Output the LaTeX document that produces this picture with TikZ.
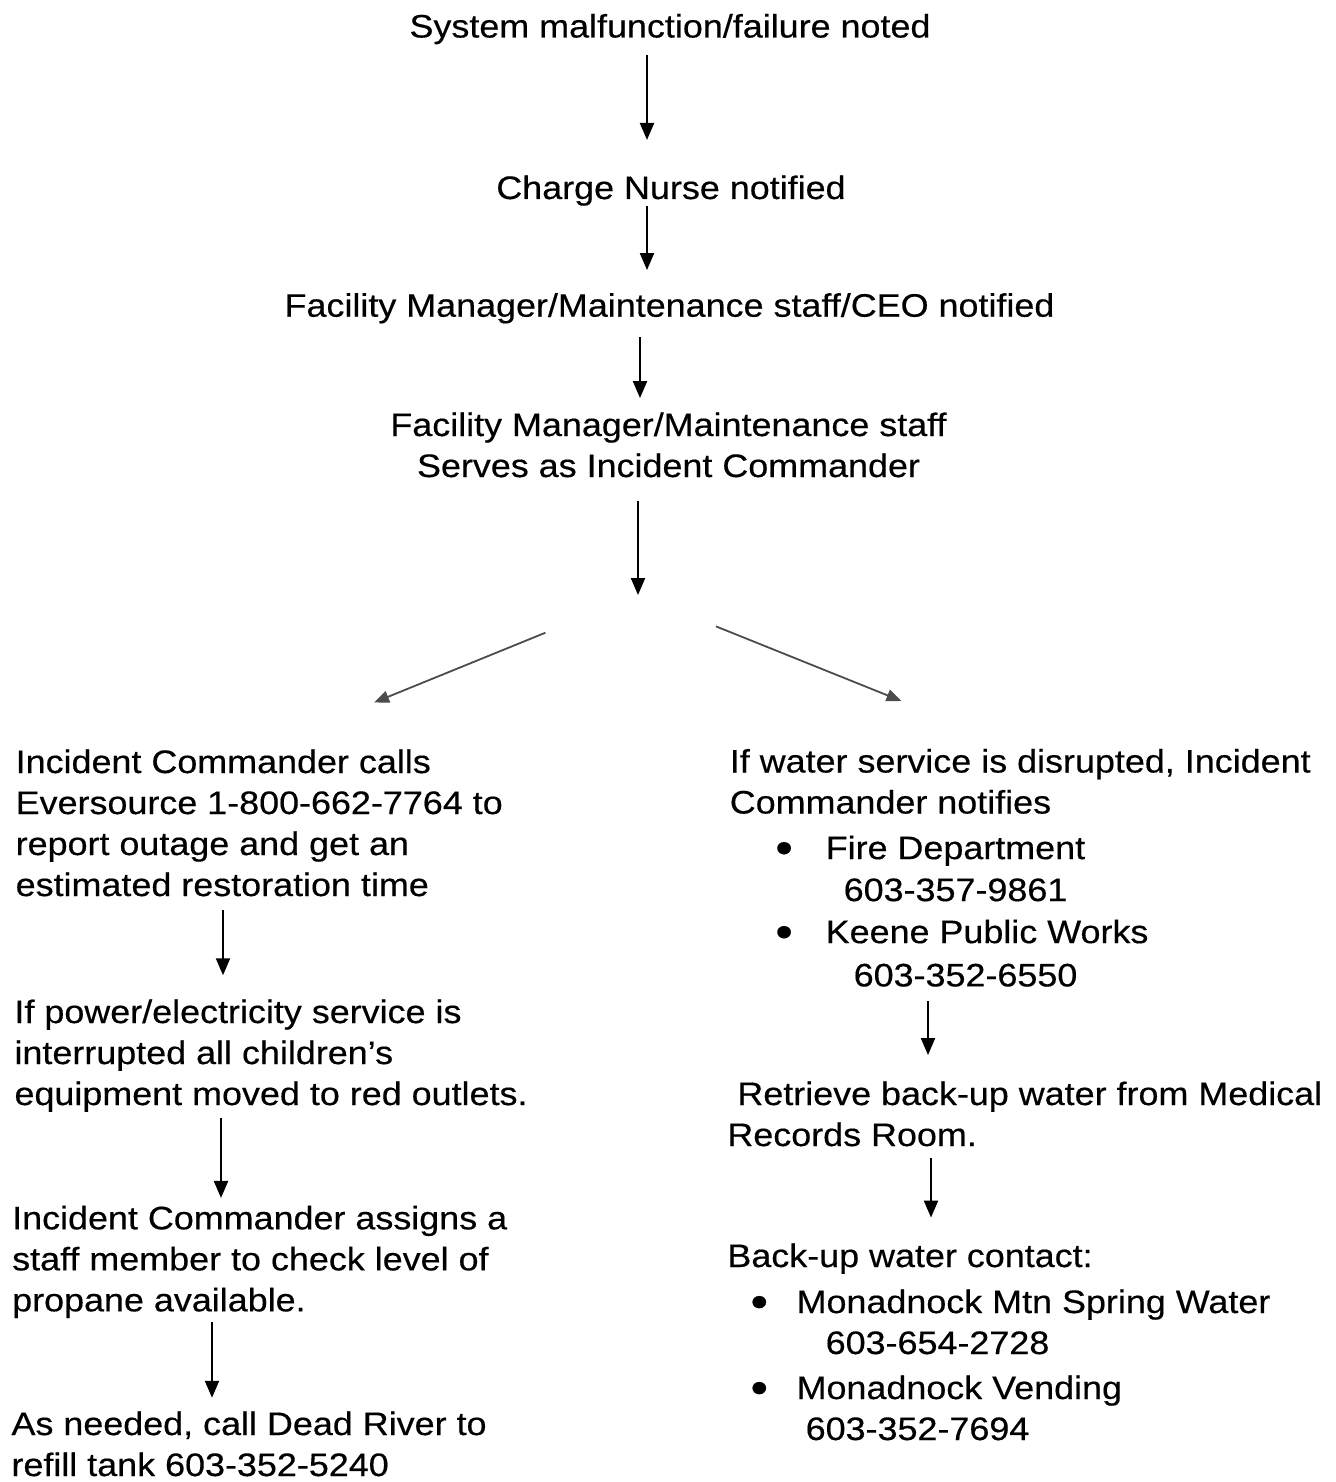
\documentclass[tikz,border=0pt]{standalone}
\usepackage{fontspec}
\setmainfont{Liberation Sans}[FakeStretch=1.105, FakeBold=0.4]
\usetikzlibrary{arrows.meta}
\tikzset{
  txt/.style={inner sep=0pt, anchor=base west, align=left, font=\fontsize{32.5}{41}\selectfont},
  mid/.style={txt, anchor=base, align=center},
  flow/.style={-{Triangle[length=17pt,width=14pt]}, line width=2.2pt},
  fan/.style={-{Triangle[length=15pt,width=12pt]}, line width=1.8pt, draw=black!70}
}
\newcommand{\ind}[1]{\hspace*{#1pt}}
\newcommand{\bul}{{\fontsize{45}{41}\selectfont\raisebox{-4pt}{\textbullet}}}

\begin{document}
\begin{tikzpicture}[x=1pt, y=-1pt]
\useasboundingbox (0,0) rectangle (1335,1482);
% Main chain (base = last line)
\node[mid] (sys) at (670,37.5) {System malfunction/failure noted};
\node[mid] (nurse) at (671,199) {Charge Nurse notified};
\node[mid] (fmgr) at (669.5,316.7) {Facility Manager/Maintenance staff/CEO notified};
\node[mid] (cmdr) at (668.5,477) {Facility Manager/Maintenance staff\\Serves as Incident Commander};
\coordinate (fork) at (638,595);
% Power branch
\node[txt] (evers) at (15.5,896) {Incident Commander calls\\Eversource 1-800-662-7764 to\\report outage and get an\\estimated restoration time};
\node[txt] (redout) at (14.3,1105) {If power/electricity service is\\interrupted all children's\\equipment moved to red outlets.};
\node[txt] (propane) at (12,1311.3) {Incident Commander assigns a\\staff member to check level of\\propane available.};
\node[txt] (dead) at (11.3,1476) {As needed, call Dead River to\\refill tank 603-352-5240};
% Water branch
\node[txt] (water) at (729.6,986.4) {If water service is disrupted, Incident\\Commander notifies\\[4.6pt]\ind{45.6}\bul\ind{32.9}Fire Department\\[1pt]\ind{113.9}603-357-9861\\[1pt]\ind{45.6}\bul\ind{32.9}Keene Public Works\\[2.3pt]\ind{123.9}603-352-6550};
\node[txt] (medrec) at (727.2,1146) {\ind{10}Retrieve back-up water from Medical\\Records Room.};
\node[txt] (backup) at (727.2,1440) {Back-up water contact:\\[5pt]\ind{23.2}\bul\ind{28.6}Monadnock Mtn Spring Water\\\ind{98.3}603-654-2728\\[4pt]\ind{23.2}\bul\ind{28.6}Monadnock Vending\\\ind{78.3}603-352-7694};
% Arrows down the middle
\draw[flow, shorten <=10.7pt, shorten >=35.3pt] ([xshift=-23pt]sys.south) -- ([xshift=-23pt]sys.south |- nurse.north);
\draw[flow, shorten >=22.9pt] ([xshift=-24pt]nurse.south) -- ([xshift=-24pt]nurse.south |- fmgr.north);
\draw[flow, shorten <=13.5pt, shorten >=14.2pt] ([xshift=-29.5pt]fmgr.south) -- ([xshift=-29.5pt]fmgr.south |- cmdr.north);
\draw[flow, shorten <=23pt] (cmdr.south -| fork) -- (fork);
\draw[fan, shorten <=100pt, shorten >=124pt] (fork) -- (evers.north);
\draw[fan, shorten <=84pt, shorten >=128pt] (fork) -- (water.north);
% Arrows in the branches
\draw[flow, shorten <=13.5pt, shorten >=24pt] ([xshift=207.5pt]evers.south west) -- ([xshift=207.5pt]evers.south west |- redout.north);
\draw[flow, shorten <=6pt, shorten >=7.6pt] ([xshift=206.7pt]redout.south west) -- ([xshift=206.7pt]redout.south west |- propane.north);
\draw[flow, shorten <=4pt, shorten >=13.5pt] ([xshift=200pt]propane.south west) -- ([xshift=200pt]propane.south west |- dead.north);
\draw[flow, shorten <=14.5pt, shorten >=26.2pt] ([xshift=198.4pt]water.south west) -- ([xshift=198.4pt]water.south west |- medrec.north);
\draw[flow, shorten <=11.5pt, shorten >=25.7pt] ([xshift=203.8pt]medrec.south west) -- ([xshift=203.8pt]medrec.south west |- backup.north);
\end{tikzpicture}
\end{document}
